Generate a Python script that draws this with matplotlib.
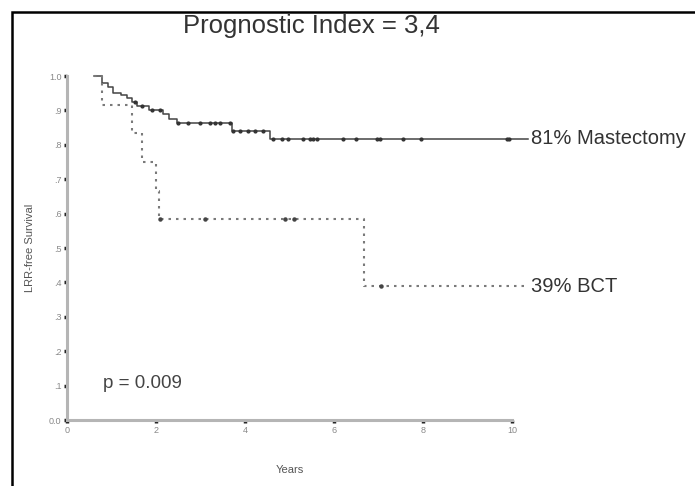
import numpy as np
import matplotlib.pyplot as plt
from matplotlib.patches import Rectangle

# =========================
# Data
# =========================
# Mastectomy: step times and survival after each step
mast_t = [0.6, 0.78, 0.92, 1.03, 1.22, 1.35, 1.46, 1.57, 1.85, 2.15, 2.3, 2.47, 3.7, 4.56, 10.35]
mast_s = [1.0, 0.98, 0.967, 0.952, 0.945, 0.936, 0.925, 0.912, 0.902, 0.89, 0.876, 0.863, 0.84, 0.817, 0.817]
mast_cens = [1.53, 1.68, 1.9, 2.09, 2.5, 2.72, 2.99, 3.21, 3.33, 3.44, 3.66,
             3.73, 3.89, 4.07, 4.22, 4.4, 4.63, 4.83, 4.97, 5.3, 5.46, 5.53,
             5.62, 6.2, 6.49, 6.97, 7.04, 7.55, 7.96, 9.89, 9.93]

# BCT
bct_t = [0.6, 0.78, 1.45, 1.68, 2.0, 2.07, 6.67, 10.35]
bct_s = [1.0, 0.917, 0.833, 0.75, 0.667, 0.583, 0.389, 0.389]
bct_cens = [2.09, 3.1, 4.9, 5.1, 7.05]

y_ticks = [0.0, 0.1, 0.2, 0.3, 0.4, 0.5, 0.6, 0.7, 0.8, 0.9, 1.0]
y_tick_labels = ["0.0", ".1", ".2", ".3", ".4", ".5", ".6", ".7", ".8", ".9", "1.0"]
x_ticks = [0, 2, 4, 6, 8, 10]


def step_value(times, surv, t):
    idx = np.searchsorted(times, t, side="right") - 1
    return np.array(surv)[idx]


plt.rcParams["font.family"] = ["Liberation Sans", "DejaVu Sans"]

fig = plt.figure(figsize=(6.95, 4.86), dpi=100)
ax = fig.add_axes([67 / 695, 1 - 420 / 486, 445 / 695, 344 / 486])

# outer frame (left + top lines)
fig.add_artist(Rectangle((12 / 695, -0.1), 1.0, 1 - 12 / 486 + 0.1,
                         transform=fig.transFigure, fill=False,
                         edgecolor="black", linewidth=1.8))

# curves
ax.step(mast_t, mast_s, where="post", color="#444444", linewidth=1.1, clip_on=False)
ax.plot(mast_cens, step_value(mast_t, mast_s, mast_cens), "o", color="#333333",
        markersize=2.0, clip_on=False)

ax.step(bct_t, bct_s, where="post", color="#7a7a7a", linewidth=1.5,
        linestyle=(0, (1.2, 2.4)), clip_on=False)
ax.plot(bct_cens, step_value(bct_t, bct_s, bct_cens), "o", color="#444444",
        markersize=2.2, clip_on=False)

# labels at curve ends
ax.text(10.42, mast_s[-1], "81% Mastectomy", fontsize=14.5, color="#333333",
        va="center", ha="left", clip_on=False)
ax.text(10.42, bct_s[-1], "39% BCT", fontsize=14.5, color="#333333",
        va="center", ha="left", clip_on=False)
ax.text(0.8, 0.105, "p = 0.009", fontsize=13.5, color="#444444", va="center", ha="left")

# axes styling
ax.set_xlim(0, 10)
ax.set_ylim(0, 1)
for side in ["top", "right"]:
    ax.spines[side].set_visible(False)
for side in ["left", "bottom"]:
    ax.spines[side].set_color("#b5b5b5")
    ax.spines[side].set_linewidth(2.2)

ax.set_yticks(y_ticks)
ax.set_yticklabels(y_tick_labels)
ax.set_xticks(x_ticks)
ax.tick_params(axis="both", length=2, width=2.5, color="#222222",
               labelsize=6.5, labelcolor="#888888", pad=2)

ax.set_ylabel("LRR-free Survival", fontsize=8, color="#555555", labelpad=10)
ax.set_xlabel("Years", fontsize=8, color="#555555", labelpad=22)

fig.text(311 / 695, 1 - 26 / 486, "Prognostic Index = 3,4", fontsize=18.5,
         ha="center", va="center", color="#333333")

fig.savefig("out.png", dpi=100)
